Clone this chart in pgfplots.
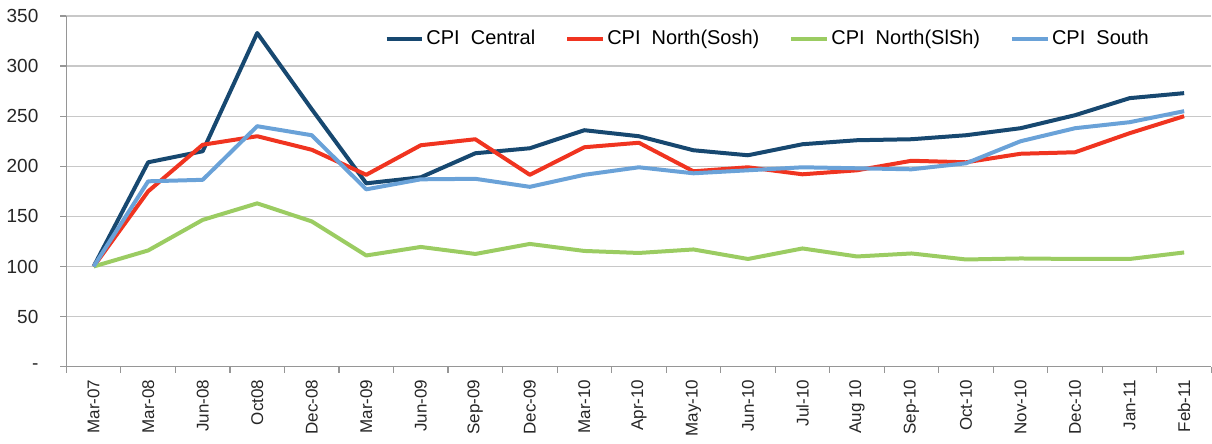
\documentclass[border=0pt]{standalone}
\usepackage{pgfplots}
\pgfplotsset{compat=1.18}
\usepackage{fontspec}
\setmainfont{Liberation Sans}
\definecolor{cCentral}{RGB}{23,72,112}
\definecolor{cSosh}{RGB}{240,52,32}
\definecolor{cSlSh}{RGB}{155,204,98}
\definecolor{cSouth}{RGB}{106,162,216}
\definecolor{gridc}{RGB}{200,200,200}
\definecolor{axc}{RGB}{150,150,150}
\begin{document}
\begin{tikzpicture}
\begin{axis}[
  name=ax,
  scale only axis,
  width=573pt, height=175.5pt,
  xmin=-0.5, xmax=20.5,
  ymin=0, ymax=350,
  axis x line*=bottom, axis y line*=left,
  axis line style={axc, line width=0.6pt},
  xtick={0,...,20},
  xticklabels={Mar-07,Mar-08,Jun-08,Oct08,Dec-08,Mar-09,Jun-09,Sep-09,Dec-09,Mar-10,Apr-10,May-10,Jun-10,Jul-10,Aug 10,Sep-10,Oct-10,Nov-10,Dec-10,Jan-11,Feb-11},
  x tick label style={rotate=90, anchor=east, font=\fontsize{8.5}{9}\selectfont, text=black!85},
  major x tick style={draw=none},
  minor xtick={-0.5,0.5,...,20.5},
  minor x tick style={axc, line width=0.6pt},
  ytick={0,50,...,350},
  yticklabels={-,50,100,150,200,250,300,350},
  y tick label style={font=\fontsize{9.5}{10}\selectfont, text=black!85, xshift=-7.5pt},
  y tick style={axc, line width=0.6pt},
  tick align=outside,
  major tick length=3pt, minor tick length=3pt,
  ymajorgrids, grid style={gridc, line width=0.6pt},
  legend style={draw=none, fill=none, at={(0.2775,0.934)}, anchor=west, inner sep=0pt,
    font=\fontsize{10}{11}\selectfont, nodes={inner xsep=1pt},
    /tikz/every even column/.append style={column sep=14pt}},
  legend columns=4,
  legend image code/.code={\draw[#1] (0pt,0pt) -- (18pt,0pt);},
  every axis plot/.append style={line width=2pt, mark=none, line join=round},
]
\addplot[cCentral] coordinates {(0,100)(1,204)(2,215)(3,333)(4,257)(5,183)(6,189)(7,213)(8,218)(9,236)(10,230)(11,216)(12,211)(13,222)(14,226)(15,227)(16,231)(17,238)(18,251)(19,268)(20,273)};
\addlegendentry{CPI\ \ Central}
\addplot[cSosh] coordinates {(0,100)(1,175)(2,221.5)(3,230)(4,216.5)(5,191.5)(6,221)(7,227)(8,191.5)(9,219)(10,223.5)(11,195)(12,199)(13,192)(14,196)(15,205.5)(16,204)(17,212.5)(18,214)(19,233)(20,250)};
\addlegendentry{CPI\ \ North(Sosh)}
\addplot[cSlSh] coordinates {(0,100)(1,116)(2,146.5)(3,163)(4,145)(5,111)(6,119.5)(7,112.5)(8,122.5)(9,115.5)(10,113.5)(11,117)(12,107.5)(13,118)(14,110)(15,113)(16,107)(17,108)(18,107.5)(19,107.5)(20,114)};
\addlegendentry{CPI\ \ North(SlSh)}
\addplot[cSouth] coordinates {(0,100)(1,185)(2,186.5)(3,240)(4,231)(5,177)(6,187)(7,187.5)(8,179.5)(9,191.5)(10,199)(11,193)(12,196)(13,199)(14,198)(15,197)(16,203)(17,225)(18,238)(19,244)(20,255)};
\addlegendentry{CPI\ \ South}
\coordinate (topleft) at (rel axis cs:0,1);
\end{axis}
\path (topleft) ++(0,8pt);
\end{tikzpicture}
\end{document}
